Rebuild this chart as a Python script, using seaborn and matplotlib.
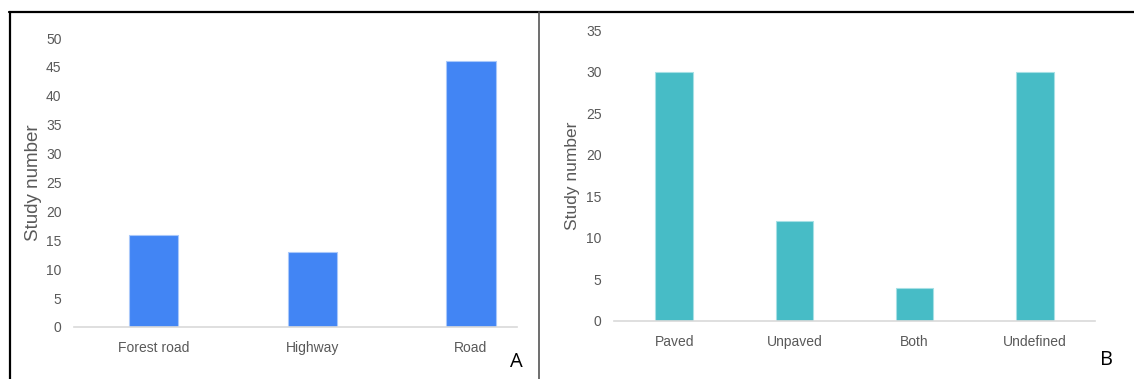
import matplotlib
matplotlib.use("Agg")
import matplotlib.pyplot as plt
from matplotlib.lines import Line2D
import seaborn as sns
import pandas as pd

# Panel A: studies by road class
road_types = ["Forest road", "Highway", "Road"]
road_counts = [16, 13, 46]

# Panel B: studies by road surface
surface_types = ["Paved", "Unpaved", "Both", "Undefined"]
surface_counts = [30, 12, 4, 30]

sns.set_style("white")
plt.rcParams["font.family"] = ["Liberation Sans", "DejaVu Sans"]

TICK_GREY = "#595959"
AXIS_GREY = "#d9d9d9"

fig = plt.figure(figsize=(11.34, 3.79), dpi=100)

ax_a = fig.add_axes([74 / 1134, 1 - 327 / 379, 443 / 1134, 289 / 379])
ax_b = fig.add_axes([614 / 1134, 1 - 321 / 379, 481 / 1134, 291 / 379])

df_a = pd.DataFrame({"type": road_types, "count": road_counts})
df_b = pd.DataFrame({"type": surface_types, "count": surface_counts})

sns.barplot(data=df_a, x="type", y="count", ax=ax_a, color="#4285f4",
            width=0.31, edgecolor="#a9c8fa", linewidth=0.8, saturation=1)
sns.barplot(data=df_b, x="type", y="count", ax=ax_b, color="#47bcc6",
            width=0.31, edgecolor="#a6e0e5", linewidth=0.8, saturation=1)

def style_axis(ax, ymax, ylabel_size, labelpad):
    ax.set_ylim(0, ymax)
    ax.set_yticks(range(0, ymax + 1, 5))
    ax.set_xlabel("")
    ax.set_ylabel("Study number", fontsize=ylabel_size, color=TICK_GREY,
                  labelpad=labelpad)
    for side in ("top", "right", "left"):
        ax.spines[side].set_visible(False)
    ax.spines["bottom"].set_color(AXIS_GREY)
    ax.spines["bottom"].set_linewidth(1.2)
    ax.tick_params(axis="y", length=0, pad=9, labelsize=10, labelcolor=TICK_GREY)
    ax.tick_params(axis="x", length=0, pad=10, labelsize=10, labelcolor=TICK_GREY)
    ax.set_facecolor("white")

style_axis(ax_a, 50, 13.5, 3)
style_axis(ax_b, 35, 12.5, 4)

ax_a.set_xlim(-0.5, 2.29)
ax_b.set_xlim(-0.5, 3.5)

# small category-boundary ticks on panel A
ax_a.set_xticks([-0.5, 0.5, 1.5], minor=True)
ax_a.tick_params(axis="x", which="minor", length=4, color=AXIS_GREY, width=1)

# panel letters
fig.text(516 / 1134, 1 - 362 / 379, "A", fontsize=14.5, ha="center", va="center",
         color="black", family=["Open Sans", "DejaVu Sans"])
fig.text(1107 / 1134, 1 - 360 / 379, "B", fontsize=14.5, ha="center", va="center",
         color="black", family=["Open Sans", "DejaVu Sans"])

# frame lines around the panels
fig.add_artist(Line2D([9 / 1134, 1], [1 - 12 / 379] * 2, color="black", lw=1.6,
                      transform=fig.transFigure))
fig.add_artist(Line2D([10 / 1134] * 2, [0, 1 - 12 / 379], color="black", lw=1.6,
                      transform=fig.transFigure))
fig.add_artist(Line2D([539 / 1134] * 2, [0, 1 - 12 / 379], color="#555555", lw=1.2,
                      transform=fig.transFigure))

fig.savefig("out.png", dpi=100, facecolor="white")
